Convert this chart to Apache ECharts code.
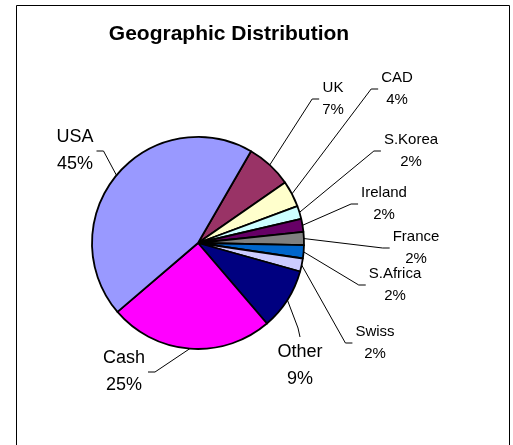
<!DOCTYPE html>
<html>
<head>
<meta charset="utf-8">
<script src="https://cdn.jsdelivr.net/npm/echarts@6/dist/echarts.min.js"></script>
<style>
  html, body { margin: 0; padding: 0; background: #fff; }
  #chart { width: 513px; height: 445px; }
</style>
</head>
<body>
<div id="chart"></div>
<script>
// slices go clockwise starting just right of 12 o'clock
const regions = ['UK', 'CAD', 'S.Korea', 'Ireland', 'France', 'S.Africa', 'Swiss', 'Other', 'Cash', 'USA'];
const shares = [7, 4, 2, 2, 2, 2, 2, 9.4, 25, 44.6];
const sliceColors = ['#993366', '#FFFFCC', '#CCFFFF', '#660066', '#808080', '#0066CC', '#CCCCFF', '#000080', '#FF00FF', '#9999FF'];
const bigLabels = ['Other', 'Cash', 'USA'];

// label block centres (dragged by hand in the original) and the side the leader meets
const labelSpots = [[333, 99], [397, 89], [411, 151], [384, 204], [416, 248], [395, 285], [375, 343], [300, 366], [124, 372], [75, 151]];
const labelSides = ['right', 'right', 'right', 'right', 'right', 'right', 'right', 'bottom', 'left', 'left'];

const pieCenter = [198, 243];
const pieRadius = 106;
const startAngle = 60;

const chart = echarts.init(document.getElementById('chart'));

const edgePoint = (i) => {
  // point on the rim at the middle of slice i
  const total = shares.reduce((a, b) => a + b, 0);
  let before = 0;
  for (let k = 0; k < i; k++) before += shares[k];
  const mid = (startAngle - (before + shares[i] / 2) / total * 360) * Math.PI / 180;
  return [pieCenter[0] + pieRadius * Math.cos(mid), pieCenter[1] - pieRadius * Math.sin(mid)];
};

const pieData = regions.map((name, i) => {
  const big = bigLabels.includes(name);
  return {
    name: name,
    value: shares[i],
    itemStyle: { color: sliceColors[i] },
    label: { fontSize: big ? 18 : 15, lineHeight: big ? 27 : 22 }
  };
});

const option = {
  animation: false,
  backgroundColor: '#fff',
  title: {
    text: 'Geographic Distribution',
    left: 224,
    top: 19,
    textAlign: 'center',
    textStyle: { fontFamily: 'Liberation Sans, Arial', fontWeight: 'bold', fontSize: 21, color: '#000' }
  },
  graphic: [{
    type: 'rect',
    shape: { x: 16.5, y: 5.5, width: 493, height: 470 },
    style: { fill: 'none', stroke: '#000', lineWidth: 1 },
    silent: true
  }],
  series: [{
    type: 'pie',
    center: pieCenter,
    radius: pieRadius,
    startAngle: startAngle,
    clockwise: true,
    avoidLabelOverlap: false,
    data: pieData,
    itemStyle: { borderColor: '#000', borderWidth: 1.8 },
    label: {
      show: true,
      position: 'outside',
      color: '#000',
      fontFamily: 'Liberation Sans, Arial',
      formatter: (p) => `${p.name}\n${Math.round(p.percent)}%`
    },
    labelLine: {
      show: true,
      length: 20,
      length2: 10,
      lineStyle: { color: '#000', width: 1 }
    },
    emphasis: { disabled: true },
    labelLayout: (params) => {
      const i = params.dataIndex;
      const [cx, cy] = labelSpots[i];
      const w = params.labelRect.width;
      const h = params.labelRect.height;
      const start = edgePoint(i);
      let end, elbow;
      if (labelSides[i] === 'right') {
        end = [cx - w / 2 - 3, cy];
        elbow = [end[0] - 7, cy];
      } else if (labelSides[i] === 'left') {
        end = [cx + w / 2 + 3, cy];
        elbow = [end[0] + 7, cy];
      } else {
        end = [cx, cy - h / 2 - 2];
        elbow = [cx - 2, end[1] - 9];
      }
      return {
        x: cx,
        y: cy,
        align: 'center',
        verticalAlign: 'middle',
        labelLinePoints: [start, elbow, end]
      };
    }
  }]
};

chart.setOption(option);
</script>
</body>
</html>
